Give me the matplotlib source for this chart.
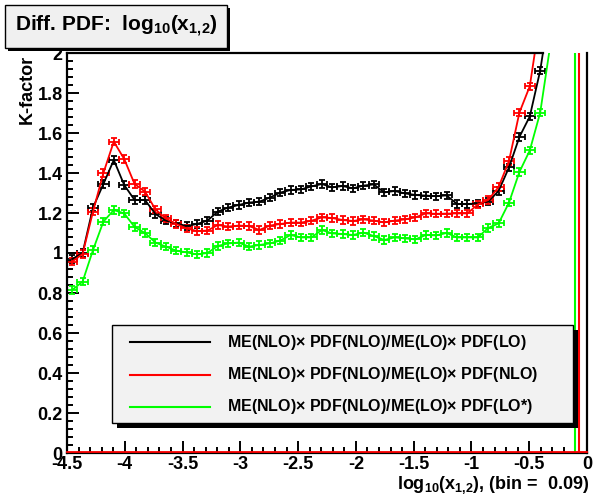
import numpy as np
import matplotlib
matplotlib.use("Agg")
import matplotlib.pyplot as plt
import matplotlib.transforms as mtransforms
from matplotlib.patches import Rectangle
from matplotlib.lines import Line2D
from matplotlib.ticker import MultipleLocator, FormatStrFormatter

plt.rcParams["font.family"] = ["Liberation Sans", "DejaVu Sans"]
plt.rcParams["font.weight"] = "bold"
plt.rcParams["axes.unicode_minus"] = False
plt.rcParams["mathtext.fontset"] = "custom"
plt.rcParams["mathtext.rm"] = "Liberation Sans"
plt.rcParams["mathtext.bf"] = "Liberation Sans:bold"

# binning of log10(x_1,2)
X_MIN, BIN_W = -4.5, 0.09

# K-factor per bin (values above 2 run off the frame)
k_lo = [0.97, 1.00, 1.227, 1.345, 1.465, 1.34, 1.265, 1.265, 1.195, 1.162,
        1.148, 1.135, 1.145, 1.162, 1.207, 1.227, 1.24, 1.252, 1.257, 1.277,
        1.302, 1.315, 1.318, 1.333, 1.345, 1.328, 1.335, 1.323, 1.337, 1.343,
        1.303, 1.31, 1.298, 1.29, 1.287, 1.284, 1.288, 1.245, 1.245, 1.248,
        1.257, 1.31, 1.428, 1.58, 1.683, 1.912, 2.25, 2.8]
k_nlo = [0.957, 0.995, 1.207, 1.40, 1.557, 1.47, 1.345, 1.307, 1.218, 1.173,
         1.145, 1.123, 1.11, 1.112, 1.14, 1.132, 1.137, 1.135, 1.115, 1.137,
         1.145, 1.152, 1.152, 1.161, 1.178, 1.175, 1.165, 1.16, 1.168, 1.162,
         1.153, 1.162, 1.168, 1.178, 1.198, 1.196, 1.197, 1.198, 1.198, 1.243,
         1.265, 1.33, 1.46, 1.702, 1.834, 2.18, 2.8]
k_lostar = [0.815, 0.857, 1.015, 1.157, 1.215, 1.198, 1.13, 1.10, 1.052, 1.032,
            1.012, 1.003, 0.993, 1.0, 1.035, 1.048, 1.052, 1.032, 1.04, 1.048,
            1.062, 1.09, 1.078, 1.078, 1.115, 1.098, 1.095, 1.09, 1.102, 1.085,
            1.065, 1.078, 1.073, 1.068, 1.09, 1.088, 1.10, 1.078, 1.078, 1.078,
            1.125, 1.148, 1.252, 1.405, 1.513, 1.702, 2.05, 2.6]
k_err = 0.018

series = [k_lo, k_nlo, k_lostar]
colors = ["#000000", "#ff0000", "#00ff00"]
labels = [r"ME(NLO)$\times$ PDF(NLO)/ME(LO)$\times$ PDF(LO)",
          r"ME(NLO)$\times$ PDF(NLO)/ME(LO)$\times$ PDF(NLO)",
          r"ME(NLO)$\times$ PDF(NLO)/ME(LO)$\times$ PDF(LO*)"]
# where each curve comes back down near x = 0
drop_x = [0.0, -0.07, -0.1]
top_line_end = -0.38

W, H = 595, 496


def fx(px):
    return px / W


def fy(py):
    return 1 - py / H


fig = plt.figure(figsize=(W / 100, H / 100), dpi=100)
ax = fig.add_axes([fx(67), fy(453), fx(587) - fx(67), fy(53) - fy(453)])

for vals, col in zip(series, colors):
    x = X_MIN + BIN_W * (np.arange(len(vals)) + 0.5)
    ax.errorbar(x, vals, xerr=BIN_W / 2, yerr=k_err, color=col, lw=1.3,
                elinewidth=1.3, capsize=2.2, capthick=1.3, zorder=2)

for dx, col in zip(drop_x[1:], colors[1:]):
    ax.axvline(dx, color=col, lw=1.5, zorder=2)

lift = mtransforms.offset_copy(ax.transData, fig=fig, y=1.5, units="dots")
ax.plot([X_MIN, 0], [0, 0], color="#ff0000", lw=1.3, transform=lift,
        clip_on=False, zorder=3)

ax.set_xlim(X_MIN, 0)
ax.set_ylim(0, 2)
ax.xaxis.set_major_locator(MultipleLocator(0.5))
ax.xaxis.set_minor_locator(MultipleLocator(0.1))
ax.yaxis.set_major_locator(MultipleLocator(0.2))
ax.yaxis.set_minor_locator(MultipleLocator(0.04))
ax.xaxis.set_major_formatter(FormatStrFormatter("%g"))
ax.yaxis.set_major_formatter(FormatStrFormatter("%g"))
ax.tick_params(which="both", direction="in", top=False, right=False,
               width=1.4, labelsize=13, pad=3)
ax.tick_params(axis="x", pad=2)
ax.tick_params(which="major", length=8.6)
ax.tick_params(which="minor", length=4.3)
for s in ax.spines.values():
    s.set_linewidth(1.6)
ax.spines["top"].set_bounds(X_MIN, top_line_end)
for t in ax.get_xticklabels() + ax.get_yticklabels():
    t.set_fontweight("bold")

fig.text(fx(27), fy(55), "K-factor", rotation=90, ha="center", va="top",
         fontsize=13, fontweight="bold")
fig.text(fx(589), fy(489), r"log$_{\mathbf{10}}$(x$_{\mathbf{1{,}2}}$), (bin =  0.09)",
         ha="right", va="baseline", fontsize=13, fontweight="bold")

# title box with shadow
fig.add_artist(Rectangle((fx(8), fy(51)), fx(227) - fx(5), fy(5) - fy(48),
                         transform=fig.transFigure, facecolor="black",
                         edgecolor="none", zorder=5))
fig.add_artist(Rectangle((fx(5), fy(48)), fx(227) - fx(5), fy(5) - fy(48),
                         transform=fig.transFigure, facecolor="#f0f0f0",
                         edgecolor="black", lw=1, zorder=6))
fig.text(fx(15), fy(31), r"Diff. PDF:  log$_{\mathbf{10}}$(x$_{\mathbf{1{,}2}}$)",
         ha="left", va="baseline", fontsize=15, fontweight="bold", zorder=7)

# legend box with shadow
fig.add_artist(Rectangle((fx(117), fy(428)), fx(573) - fx(112), fy(325) - fy(423),
                         transform=fig.transFigure, facecolor="black",
                         edgecolor="none", zorder=5))
fig.add_artist(Rectangle((fx(112), fy(423)), fx(573) - fx(112), fy(325) - fy(423),
                         transform=fig.transFigure, facecolor="#f2f2f2",
                         edgecolor="black", lw=1, zorder=6))
for row, (lab, col) in enumerate(zip(labels, colors)):
    yy = fy(342 + row * 32.5)
    fig.add_artist(Line2D([fx(130), fx(210)], [yy, yy], color=col, lw=1.5,
                          transform=fig.transFigure, zorder=7))
    fig.text(fx(227), yy, lab, ha="left", va="center", fontsize=11.5,
             fontweight="bold", zorder=7)

fig.savefig("out.png", dpi=100, facecolor="white")
